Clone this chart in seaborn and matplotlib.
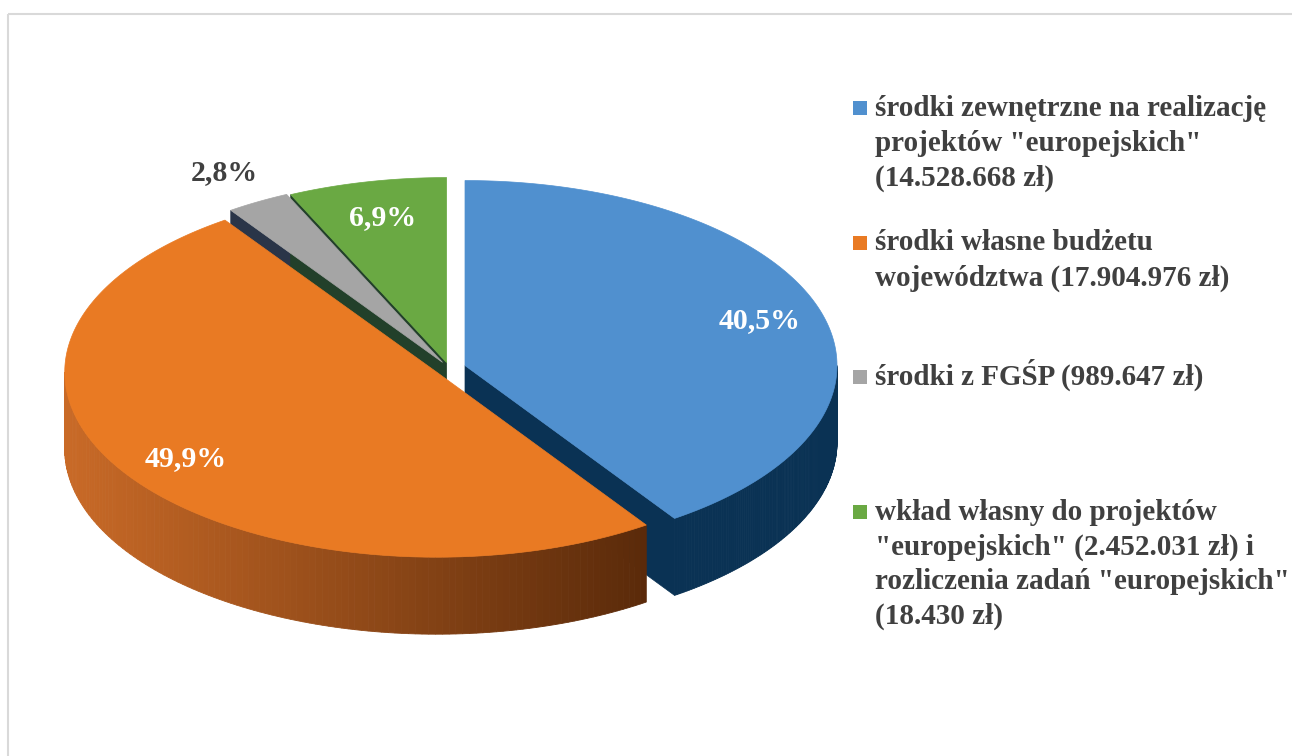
import numpy as np
import matplotlib.pyplot as plt
import seaborn as sns
from matplotlib.patches import Polygon, Rectangle
from matplotlib.colors import to_rgb

# dane
labels = [
    'środki zewnętrzne na realizację\nprojektów "europejskich"\n(14.528.668 zł)',
    'środki własne budżetu\nwojewództwa (17.904.976 zł)',
    'środki z FGŚP (989.647 zł)',
    'wkład własny do projektów\n"europejskich" (2.452.031 zł) i\nrozliczenia zadań "europejskich"\n(18.430 zł)',
]
amounts = [14528668, 17904976, 989647, 2452031 + 18430]
top_colors = ["#5090CF", "#E97A23", "#A5A5A5", "#6AA943"]
side_colors = ["#0A3254", "#C96A27", "#2A3548", "#22402A"]
side_dark = ["#0A3254", "#5A2A0A", "#2A3548", "#22402A"]
explode = [0.045, 0.04, 0.035, 0.03]
label_r = [0.83, 0.82, 1.18, 0.80]
label_col = ["white", "white", "#404040", "white"]

sns.set_theme(style="white")
plt.rcParams["font.family"] = ["Liberation Serif", "DejaVu Serif"]

W, H = 1292, 756
fig = plt.figure(figsize=(W / 100, H / 100), dpi=100)
ax = fig.add_axes([0, 0, 1, 1])
ax.set_xlim(0, W)
ax.set_ylim(H, 0)
ax.axis("off")

# ramka
ax.add_patch(Rectangle((8, 14), W, H, fill=False, ec="#D9D9D9", lw=1.5))

# geometria "3D"
CX, CY, RX, RY, DEPTH = 449, 368, 372, 185, 77


def pt(c, th, r=1.0):
    return c[0] + r * RX * np.sin(th), c[1] - r * RY * np.cos(th)


frac = np.array(amounts) / sum(amounts)
ends = np.cumsum(frac) * 2 * np.pi
starts = ends - frac * 2 * np.pi

centers = []
for i in range(len(amounts)):
    mid = (starts[i] + ends[i]) / 2
    centers.append((CX + explode[i] * RX * np.sin(mid), CY - explode[i] * RY * np.cos(mid)))

# sciany promieniowe
for i in range(len(amounts)):
    c = centers[i]
    for th, vis in [(starts[i], np.sin(starts[i]) < -1e-6), (ends[i], np.sin(ends[i]) > 1e-6)]:
        if not vis:
            continue
        ox, oy = pt(c, th)
        poly = [(c[0], c[1]), (ox, oy), (ox, oy + DEPTH), (c[0], c[1] + DEPTH)]
        ax.add_patch(Polygon(poly, closed=True, fc=side_colors[i], ec=side_colors[i], lw=0.5))

# sciany boczne (zewnetrzne)
for i in range(len(amounts)):
    a0 = max(starts[i], np.pi / 2)
    a1 = min(ends[i], 3 * np.pi / 2)
    if a1 <= a0:
        continue
    c = centers[i]
    th = np.linspace(a0, a1, 120)
    xs, ys = pt(c, th)
    c0, c1 = np.array(to_rgb(side_colors[i])), np.array(to_rgb(side_dark[i]))
    xmin, xmax = xs.min(), xs.max()
    for k in range(len(th) - 1):
        t = ((xs[k] + xs[k + 1]) / 2 - xmin) / max(xmax - xmin, 1)
        col = c0 + (c1 - c0) * t
        poly = [(xs[k], ys[k]), (xs[k + 1], ys[k + 1]),
                (xs[k + 1], ys[k + 1] + DEPTH), (xs[k], ys[k] + DEPTH)]
        ax.add_patch(Polygon(poly, closed=True, fc=col, ec=col, lw=0.6))

# powierzchnie gorne
for i in range(len(amounts)):
    c = centers[i]
    th = np.linspace(starts[i], ends[i], 200)
    xs, ys = pt(c, th)
    poly = [(c[0], c[1])] + list(zip(xs, ys))
    ax.add_patch(Polygon(poly, closed=True, fc=top_colors[i], ec=top_colors[i], lw=0.5))

# etykiety procentowe
for i in range(len(amounts)):
    mid = (starts[i] + ends[i]) / 2
    lx, ly = pt(centers[i], mid, label_r[i])
    txt = f"{frac[i] * 100:.1f}".replace(".", ",") + "%"
    ax.text(lx, ly, txt, ha="center", va="center", fontsize=21.5,
            fontweight="bold", color=label_col[i])

# legenda
for i, lab in enumerate(labels):
    base = 116 + 134.5 * i
    ax.add_patch(Rectangle((853, base - 15), 14, 14, fc=top_colors[i], ec="none"))
    for j, line in enumerate(lab.split("\n")):
        ax.text(875, base + 34.7 * j, line, ha="left", va="baseline", fontsize=21,
                fontweight="bold", color="#404040")

fig.savefig("out.png", dpi=100, facecolor="white")
